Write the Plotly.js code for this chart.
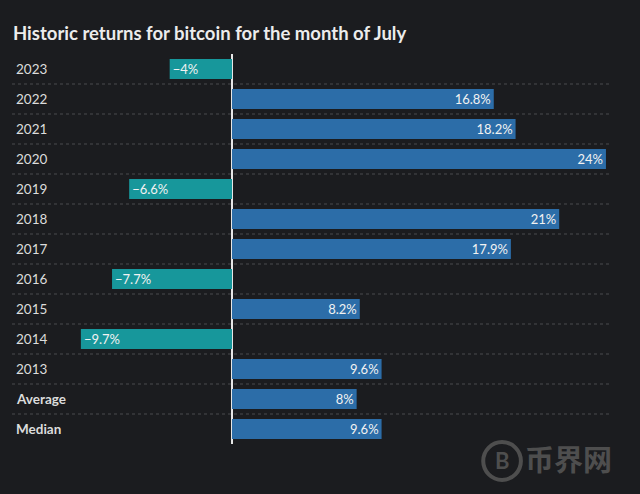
<!DOCTYPE html>
<html>
<head>
<meta charset="utf-8">
<script src="https://cdn.plot.ly/plotly-3.0.1.min.js"></script>
<style>
html,body{margin:0;padding:0;background:#1b1c1f;}
#chart{width:640px;height:494px;}
</style>
</head>
<body>
<div id="chart"></div>
<script>
const categories = ['2023','2022','2021','2020','2019','2018','2017','2016','2015','2014','2013','Average','Median'];
const returns = [-4, 16.8, 18.2, 24, -6.6, 21, 17.9, -7.7, 8.2, -9.7, 9.6, 8, 9.6];
const boldCategories = ['Average','Median'];

const POS = '#2c6da8', NEG = '#17979b';
const fmt = v => (v < 0 ? '\u2212' + Math.abs(v) : String(v)) + '%';

const trace = {
  type: 'bar',
  orientation: 'h',
  y: categories,
  x: returns,
  width: 0.66,
  marker: {color: returns.map(v => v < 0 ? NEG : POS), line: {width: 0}},
  text: returns.map(fmt),
  textposition: 'inside',
  insidetextanchor: 'end',
  textangle: 0,
  textfont: {family: 'Lato, "Open Sans", sans-serif', size: 13, color: '#f2f2f2'},
  cliponaxis: false,
  hoverinfo: 'skip'
};

const shapes = categories.slice(0, -1).map((c, i) => ({
  type: 'line', xref: 'paper', yref: 'y',
  x0: 0, x1: 1, y0: i + 0.5, y1: i + 0.5,
  line: {color: '#4a4b4f', width: 1, dash: 'dot'},
  layer: 'below'
}));
// watermark circle
shapes.push({type:'circle', xref:'paper', yref:'paper', x0:0.788, x1:0.851, y0:-0.092, y1:0.005,
  line:{color:'#4e4e4e', width:4}, fillcolor:'rgba(0,0,0,0)', layer:'below'});

const annotations = categories.map((c, i) => ({
  xref: 'paper', yref: 'y', x: 0, y: i, xanchor: 'left', yanchor: 'middle', xshift: 2,
  text: boldCategories.includes(c) ? '<b>' + c + '</b>' : c,
  showarrow: false,
  font: {family: 'Lato, "Open Sans", sans-serif', size: 13.5, color: '#dcdcdc'}
}));
annotations.push({xref:'paper', yref:'paper', x:0.8195, y:-0.043, xanchor:'center', yanchor:'middle', text:'<b>B</b>', showarrow:false,
  font:{family:'Lato, sans-serif', size:22, color:'#4e4e4e'}});
annotations.push({xref:'paper', yref:'paper', x:0.855, y:-0.036, xanchor:'left', yanchor:'middle', text:'<b>币界网</b>', showarrow:false,
  font:{family:'"Noto Sans CJK SC", sans-serif', size:29, color:'#4e4e4e'}});

const layout = {
  width: 640, height: 494,
  paper_bgcolor: '#1b1c1f', plot_bgcolor: '#1b1c1f',
  margin: {l: 12, r: 30, t: 54, b: 50},
  title: {text: '<b>Historic returns for bitcoin for the month of July</b>',
    x: 13/640, xanchor: 'left', xref: 'container', y: 1 - 34/494, yref: 'container', yanchor: 'middle',
    font: {family: 'Lato, "Open Sans", sans-serif', size: 18.5, color: '#ececec'}},
  xaxis: {range: [-14.12, 24.26], showgrid: false, showticklabels: false, ticks: '',
    zeroline: true, zerolinecolor: '#e6e6e6', zerolinewidth: 1.5, fixedrange: true},
  yaxis: {type: 'category', autorange: 'reversed', showgrid: false, showticklabels: false,
    ticks: '', zeroline: false, fixedrange: true},
  bargap: 0.34,
  showlegend: false,
  shapes: shapes,
  annotations: annotations,
  uniformtext: {mode: 'show', minsize: 13}
};

Plotly.newPlot('chart', [trace], layout, {displayModeBar: false, staticPlot: true});
</script>
</body>
</html>
